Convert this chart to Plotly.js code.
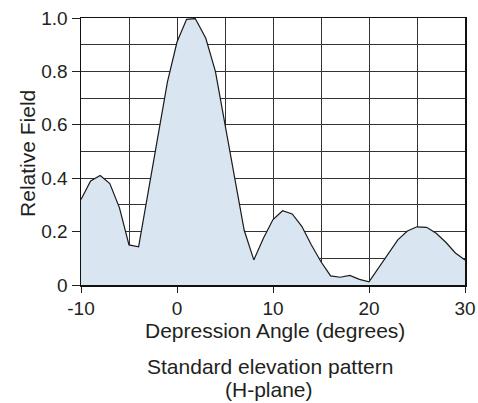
<!DOCTYPE html>
<html>
<head>
<meta charset="utf-8">
<script src="https://cdn.plot.ly/plotly-3.0.1.min.js"></script>
<style>html,body{margin:0;padding:0;background:#fff;}#chart{width:478px;height:403px;}</style>
</head>
<body>
<div id="chart"></div>
<script>
const angles = [-10,-9,-8,-7,-6,-5,-4,-3,-2,-1,0,1,1.9,3,4,5,6,7,8,9,10,11,12,13,14,15,16,17,18,19,20,21,22,23,24,25,26,27,28,29,30];
const field  = [0.32,0.39,0.41,0.38,0.29,0.15,0.143,0.35,0.555,0.76,0.91,0.995,0.998,0.924,0.80,0.60,0.405,0.205,0.094,0.175,0.245,0.278,0.266,0.22,0.15,0.087,0.034,0.029,0.036,0.021,0.012,0.065,0.116,0.169,0.202,0.218,0.216,0.194,0.16,0.12,0.094];
const xTickVals = [-10,0,10,20,30];
const yTickVals = [0,0.2,0.4,0.6,0.8,1.0];
const yTickText = ['0','0.2','0.4','0.6','0.8','1.0'];
const xTitle = 'Depression Angle (degrees)';
const yTitle = 'Relative Field';
const caption = ['Standard elevation pattern', '(H-plane)'];

const fontFam = 'Liberation Sans, Arial, sans-serif';
const txt = '#231f20';
const grid = '#333333';

Plotly.newPlot('chart', [{
  x: angles, y: field, type: 'scatter', mode: 'lines',
  line: {color: '#1a1a1a', width: 1.2},
  fill: 'tozeroy', fillcolor: '#d9e6f2',
  hoverinfo: 'skip'
}], {
  width: 478, height: 403,
  margin: {l: 81, r: 13, t: 18, b: 118},
  paper_bgcolor: '#fff', plot_bgcolor: '#fff',
  showlegend: false,
  font: {family: fontFam, color: txt, size: 19},
  xaxis: {
    range: [-10, 30], tickvals: xTickVals, ticktext: xTickVals.map(String),
    ticks: 'outside', ticklen: 6, tickcolor: '#222', tickwidth: 1,
    showgrid: true, gridcolor: grid, gridwidth: 1,
    minor: {dtick: 5, tick0: -10, showgrid: true, gridcolor: grid, gridwidth: 1, ticks: ''},
    showline: true, linecolor: '#111', linewidth: 1.5, mirror: true,
    zeroline: false, tickfont: {size: 19, color: txt}
  },
  yaxis: {
    range: [0, 1.0], tickvals: yTickVals, ticktext: yTickText,
    ticks: 'outside', ticklen: 8, tickcolor: '#222', tickwidth: 1,
    showgrid: true, gridcolor: grid, gridwidth: 1,
    minor: {dtick: 0.1, tick0: 0, showgrid: true, gridcolor: grid, gridwidth: 1, ticks: ''},
    showline: true, linecolor: '#111', linewidth: 1.5, mirror: true,
    zeroline: false, tickfont: {size: 19, color: txt}
  },
  annotations: [
    {text: xTitle, xref: 'paper', yref: 'paper', x: 0.505, y: -0.172, xanchor: 'center', yanchor: 'middle',
     showarrow: false, font: {size: 21, color: txt, family: fontFam}},
    {text: yTitle, xref: 'paper', yref: 'paper', x: -0.141, y: 0.494, xanchor: 'center', yanchor: 'middle',
     textangle: -90, showarrow: false, font: {size: 21, color: txt, family: fontFam}},
    {text: caption[0], xref: 'paper', yref: 'paper', x: 0.493, y: -0.305, xanchor: 'center', yanchor: 'middle',
     showarrow: false, font: {size: 21, color: txt, family: fontFam}},
    {text: caption[1], xref: 'paper', yref: 'paper', x: 0.489, y: -0.391, xanchor: 'center', yanchor: 'middle',
     showarrow: false, font: {size: 21, color: txt, family: fontFam}}
  ]
}, {staticPlot: true});
</script>
</body>
</html>
